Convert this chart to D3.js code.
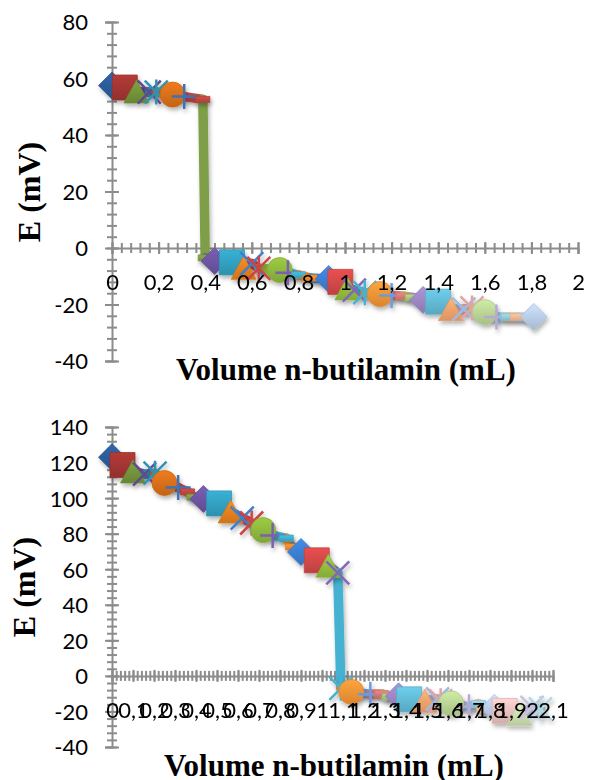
<!DOCTYPE html>
<html><head><meta charset="utf-8">
<script src="https://cdn.jsdelivr.net/npm/d3@7"></script>
<style>body{margin:0;background:#fff}</style>
</head><body>
<svg id="c" width="595" height="780" xmlns="http://www.w3.org/2000/svg"></svg>
<script>
// ---------------- data ----------------
const chart1Volume = [0,0.055,0.105,0.16,0.19,0.26,0.31,0.39,0.40,0.44,0.515,0.565,0.60,0.63,0.72,0.755,0.80,0.85,0.93,0.98,1.01,1.04,1.085,1.15,1.20,1.25,1.29,1.335,1.40,1.455,1.51,1.545,1.60,1.65,1.70,1.74,1.81];
const chart1E      = [57.5,56.8,55.4,55.2,55.2,54.3,53.6,52.6,-3.5,-4.6,-5.1,-7,-5.5,-7.2,-7.8,-8.8,-9.5,-10.6,-11,-12,-14.3,-14.9,-15.8,-16.3,-16.8,-17,-17.5,-18.4,-19,-21.6,-21.6,-21.2,-22.7,-24.4,-24.4,-24.4,-24.4];

const chart2Volume = [0,0.05,0.10,0.155,0.205,0.25,0.315,0.36,0.39,0.435,0.51,0.565,0.62,0.665,0.72,0.765,0.83,0.86,0.90,0.975,1.03,1.075,1.09,1.14,1.23,1.285,1.32,1.365,1.415,1.49,1.55,1.565,1.615,1.70,1.745,1.77,1.82,1.87,1.94,2.0,2.04];
const chart2E      = [123,118.6,115,113.5,114,108.5,106,103.5,100.5,99.5,97,92.5,88.8,86,82,79,77.5,72.5,69.7,65,62,58,-7,-9,-10.3,-10,-11.8,-11.5,-13.2,-14,-13,-14,-15.5,-17.4,-15.5,-18.7,-18,-19.7,-21.5,-17.7,-18.5];

const chart1XTicks = [0,0.2,0.4,0.6,0.8,1,1.2,1.4,1.6,1.8,2];
const chart1YTicks = [-40,-20,0,20,40,60,80];
const chart2XTicks = [0,0.1,0.2,0.3,0.4,0.5,0.6,0.7,0.8,0.9,1,1.1,1.2,1.3,1.4,1.5,1.6,1.7,1.8,1.9,2,2.1];
const chart2YTicks = [-40,-20,0,20,40,60,80,100,120,140];

const xTitle = "Volume n-butilamin (mL)";
const yTitle = "E (mV)";

// marker cycle (Excel automatic order)
const markerCycle = ["diamond","square","triangle","x","star","circle","plus","dash","dash"];

// ---------------- style ----------------
const palette = [
  ["#2B5C9B","#A33532","#74943A","#62498F","#2F93B3","#D86F1A"],
  ["#3C72B8","#C0463F","#7E9E46","#6D55A3","#32A0C1","#E8801F"],
  ["#3A80D0","#CC4444","#8DB83C","#7A5FB2","#3FAFCF","#F28C2A"],
  ["#3B7FD3","#D24848","#93BE3E","#8068B6","#45B2D2","#F39436"],
  ["#6C9BDD","#DC7B79","#A9CA79","#9C87C4","#62BAD6","#F6A46C"],
  ["#9DBBE4","#E3A3A1","#BAD595","#B7A8D5","#93CDDD","#F9BB91"],
  ["#B9CDE8","#EBC0BF","#CDE0B1","#CBC0E0","#B0DAE6","#FBCDAE"]
];
const colorOf = i => palette[Math.min(Math.floor(i/6),6)][i%6];
const axisColor = "#8C8C8C";
const labelFont = "Lato, 'Liberation Sans', sans-serif";
const titleFont = "'Liberation Serif', 'Times New Roman', serif";

const locale = d3.formatLocale({decimal:",", thousands:".", grouping:[3], currency:["",""], minus:"-"});
const fmt = locale.format(".2~f");

const svg = d3.select("#c");
const defs = svg.append("defs");
const f = defs.append("filter").attr("id","sh").attr("x","-50%").attr("y","-50%").attr("width","200%").attr("height","200%");
f.append("feDropShadow").attr("dx",1.5).attr("dy",3).attr("stdDeviation",2.2).attr("flood-color","#000").attr("flood-opacity",0.3);

function drawChart(cfg){
  const g = svg.append("g");
  const x = d3.scaleLinear().domain(cfg.xDomain).range(cfg.xRange);
  const y = d3.scaleLinear().domain(cfg.yDomain).range(cfg.yRange);
  const y0 = y(0), x0 = x(0);

  // ---- axis lines & ticks (below series) ----
  const axG = g.append("g");
  const yAx = d3.axisLeft(y).tickValues(cfg.yTicks).tickSize(7).tickFormat("");
  const ya = axG.append("g").attr("transform",`translate(${x0},0)`).call(yAx);
  ya.select(".domain").attr("stroke",axisColor).attr("stroke-width",2);
  ya.selectAll(".tick line").attr("x1",7).attr("x2",-7).attr("stroke",axisColor).attr("stroke-width",2);
  const yMinor = d3.axisLeft(y).tickValues(cfg.yMinor).tickSize(5).tickFormat("");
  const ym = axG.append("g").attr("transform",`translate(${x0},0)`).call(yMinor);
  ym.select(".domain").remove();
  ym.selectAll(".tick line").attr("x1",5).attr("x2",-5).attr("stroke",axisColor).attr("stroke-width",2);
  const xAx = d3.axisBottom(x).tickValues(cfg.xTicks).tickSize(6).tickFormat("");
  const xa = axG.append("g").attr("transform",`translate(0,${y0})`).call(xAx);
  xa.select(".domain").attr("stroke",axisColor).attr("stroke-width",2);
  xa.selectAll(".tick line").attr("y1",-6).attr("y2",6).attr("stroke",axisColor).attr("stroke-width",2);
  const xMinor = d3.axisBottom(x).tickValues(cfg.xMinor).tickSize(5).tickFormat("");
  const xm = axG.append("g").attr("transform",`translate(0,${y0})`).call(xMinor);
  xm.select(".domain").remove();
  xm.selectAll(".tick line").attr("y1",-5).attr("y2",5).attr("stroke",axisColor).attr("stroke-width",2);

  // ---- series ----
  const pts = cfg.vx.map((v,i)=>({v, e:cfg.ve[i], i, c:colorOf(i), m:markerCycle[i%markerCycle.length]}));
  const segs = pts.slice(1).map((p,k)=>({a:pts[k], b:p}));
  const lineG = g.append("g").attr("filter","url(#sh)");
  lineG.selectAll("line").data(segs).join("line")
    .attr("x1",d=>x(d.a.v)).attr("y1",d=>y(d.a.e))
    .attr("x2",d=>x(d.b.v)).attr("y2",d=>y(d.b.e))
    .attr("stroke",d=>d.b.c).attr("stroke-width",9.5).attr("stroke-linecap","round");

  pts.forEach(p=>{
    const gr = defs.append("linearGradient").attr("id",`g${cfg.id}_${p.i}`).attr("x1",0).attr("y1",0).attr("x2",0).attr("y2",1);
    gr.append("stop").attr("offset","0%").attr("stop-color",d3.color(p.c).brighter(0.3));
    gr.append("stop").attr("offset","100%").attr("stop-color",d3.color(p.c).darker(0.3));
  });

  const markG = g.append("g").attr("filter","url(#sh)");
  const shapes = {
    diamond:"M0,-13.5L13.5,0L0,13.5L-13.5,0Z",
    square:"M-12.5,-12.5H12.5V12.5H-12.5Z",
    triangle:"M0,-11.5L12.5,11.5L-12.5,11.5Z",
    circle:"M12.5,0A12.5,12.5 0 1,1 -12.5,0A12.5,12.5 0 1,1 12.5,0Z",
    dash:"M-7,-3H7V3H-7Z",
    x:"M-11.5,-11.5L11.5,11.5M-11.5,11.5L11.5,-11.5",
    star:"M-11.5,-11.5L11.5,11.5M-11.5,11.5L11.5,-11.5M0,-12.5L0,12.5",
    plus:"M-12.5,0L12.5,0M0,-12.5L0,12.5"
  };
  const lineTypes = new Set(["x","star","plus"]);
  markG.selectAll("path").data(pts).join("path")
    .attr("transform",d=>`translate(${x(d.v)},${y(d.e)})`)
    .attr("d",d=>shapes[d.m])
    .attr("fill",d=>lineTypes.has(d.m)?"none":`url(#g${cfg.id}_${d.i})`)
    .attr("stroke",d=>lineTypes.has(d.m)?d.c:d3.color(d.c).darker(0.2))
    .attr("stroke-width",d=>lineTypes.has(d.m)?2.5:0.8);

  // ---- labels (on top) ----
  const yl = d3.axisLeft(y).tickValues(cfg.yTicks).tickSize(0).tickPadding(0).tickFormat(fmt);
  const ylg = g.append("g").attr("transform",`translate(${cfg.yLabelRight},0)`).call(yl);
  ylg.select(".domain").remove();
  ylg.selectAll(".tick line").remove();
  ylg.selectAll("text").attr("x",0).attr("dy","0.36em").attr("fill","#000")
     .style("font-family",labelFont).style("font-size","22px");

  const xl = d3.axisBottom(x).tickValues(cfg.xTicks).tickSize(0).tickFormat(fmt);
  const xlg = g.append("g").attr("transform",`translate(0,${y0})`).call(xl);
  xlg.select(".domain").remove();
  xlg.selectAll(".tick line").remove();
  xlg.selectAll("text").attr("y",34).attr("dy","0.36em").attr("fill","#000")
     .style("font-family",labelFont).style("font-size","22px");

  g.append("text").attr("x",cfg.xTitlePos[0]).attr("y",cfg.xTitlePos[1]).attr("text-anchor","middle")
    .style("font-family",titleFont).style("font-weight","bold").style("font-size","31px").text(xTitle);
  g.append("text").attr("transform",`translate(${cfg.yTitlePos[0]},${cfg.yTitlePos[1]}) rotate(-90)`)
    .attr("text-anchor","middle")
    .style("font-family",titleFont).style("font-weight","bold").style("font-size","32px").text(yTitle);
}

drawChart({
  id:1, vx:chart1Volume, ve:chart1E,
  xDomain:[0,2], xRange:[112,578],
  yDomain:[-40,80], yRange:[361,22],
  xTicks:chart1XTicks, yTicks:chart1YTicks,
  xMinor:d3.range(0,51).map(k=>k*0.04), yMinor:d3.range(-10,21).map(k=>k*4),
  yLabelRight:88, xTitlePos:[346,380], yTitlePos:[40,192]
});
drawChart({
  id:2, vx:chart2Volume, ve:chart2E,
  xDomain:[0,2.1], xRange:[112,553],
  yDomain:[-40,140], yRange:[747,427],
  xTicks:chart2XTicks, yTicks:chart2YTicks,
  xMinor:d3.range(0,106).map(k=>k*0.02), yMinor:d3.range(-10,36).map(k=>k*4),
  yLabelRight:88, xTitlePos:[334,776], yTitlePos:[35,587]
});
</script>
</body></html>
